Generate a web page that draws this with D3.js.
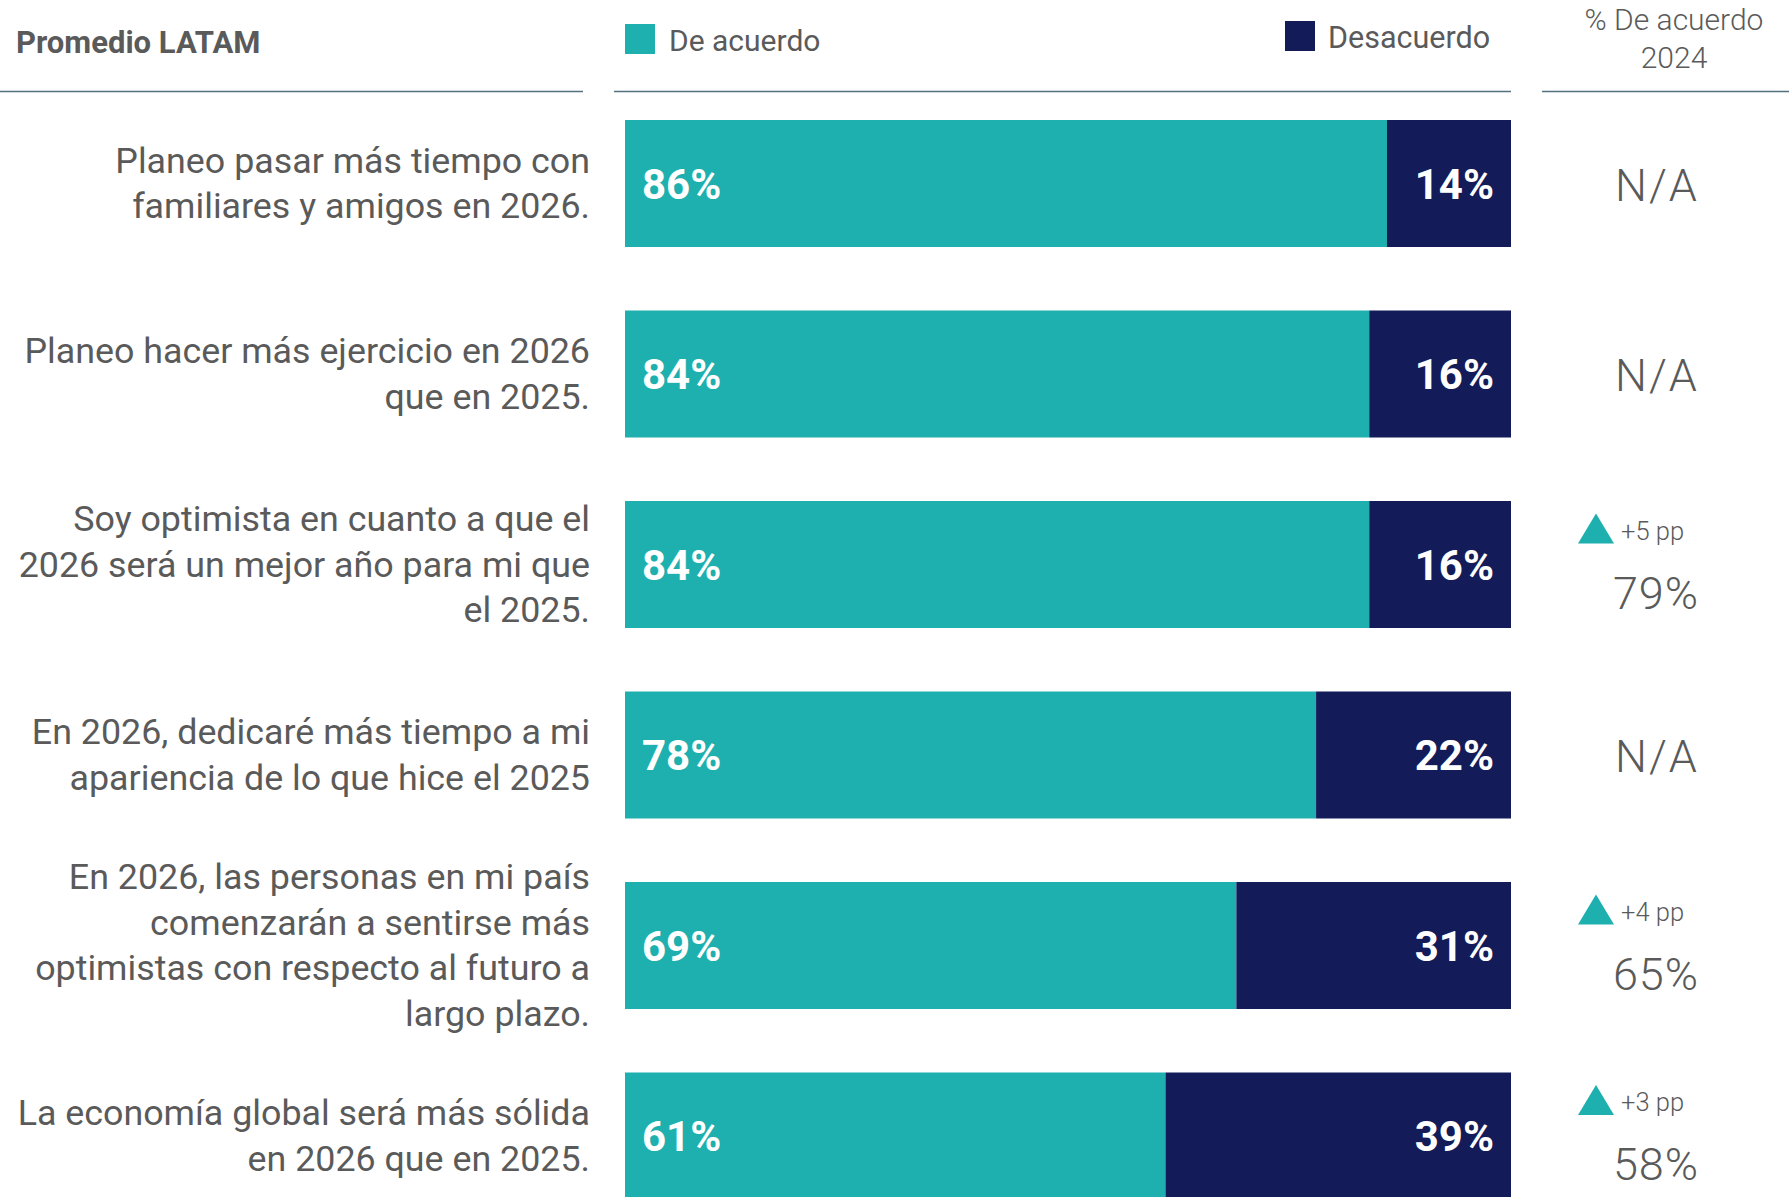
<!DOCTYPE html>
<html>
<head>
<meta charset="utf-8">
<script src="https://cdn.jsdelivr.net/npm/d3@7"></script>
<style>
  html, body { margin: 0; padding: 0; background: #fff; }
  svg { display: block; font-family: Roboto, "Noto Sans", sans-serif; }
</style>
</head>
<body>
<div id="chart"></div>
<script>
// data
var categories = [
  "Planeo pasar más tiempo con\nfamiliares y amigos en 2026.",
  "Planeo hacer más ejercicio en 2026\nque en 2025.",
  "Soy optimista en cuanto a que el\n2026 será un mejor año para mi que\nel 2025.",
  "En 2026, dedicaré más tiempo a mi\napariencia de lo que hice el 2025",
  "En 2026, las personas en mi país\ncomenzarán a sentirse más\noptimistas con respecto al futuro a\nlargo plazo.",
  "La economía global será más sólida\nen 2026 que en 2025."
];
var deAcuerdo = [86, 84, 84, 78, 69, 61];
var desacuerdo = [14, 16, 16, 22, 31, 39];
var acuerdo2024 = [null, null, 79, null, 65, 58];
var cambioPP = [null, null, 5, null, 4, 3];
var seriesNames = ["De acuerdo", "Desacuerdo"];

var W = 1792, H = 1197;
var teal = "#1eb0ae", navy = "#131c58", grey = "#5a5a5a", rule = "#52707f";

var svg = d3.select("#chart").append("svg")
    .attr("width", W)
    .attr("height", H);

var x = d3.scaleLinear().domain([0, 100]).range([625, 1511]);
var y = d3.scaleBand()
    .domain(d3.range(categories.length))
    .range([120, 1199.5])
    .paddingInner(1 / 3)
    .paddingOuter(0);

//header rules
[[0, 583], [614, 1511], [1542, 1789]].forEach(function(r) {
  svg.append("line")
    .attr("x1", r[0]).attr("x2", r[1])
    .attr("y1", 91.5).attr("y2", 91.5)
    .attr("stroke", rule)
    .attr("stroke-width", 1.6);
});

svg.append("text")
    .attr("x", 16).attr("y", 53)
    .attr("font-size", 31)
    .attr("font-weight", 700)
    .attr("fill", grey)
    .text("Promedio LATAM");

//legend
svg.append("rect").attr("x", 625).attr("y", 24).attr("width", 30).attr("height", 30).attr("fill", teal);
svg.append("text").attr("x", 669).attr("y", 51)
    .attr("font-size", 30).attr("fill", grey).text(seriesNames[0]);
svg.append("rect").attr("x", 1285).attr("y", 21).attr("width", 30).attr("height", 30).attr("fill", navy);
svg.append("text").attr("x", 1328).attr("y", 48)
    .attr("font-size", 30.5).attr("fill", grey).text(seriesNames[1]);

svg.append("text")
    .attr("x", 1674).attr("y", 30)
    .attr("text-anchor", "middle")
    .attr("font-size", 30).attr("font-weight", 300).attr("fill", grey)
    .selectAll("tspan")
    .data(["% De acuerdo", "2024"])
    .join("tspan")
    .attr("x", 1674)
    .attr("dy", function(d, i) { return i ? 38 : 0; })
    .text(function(d) { return d; });

var rows = svg.selectAll("g.row")
    .data(categories.map(function(c, i) { return i; }))
    .join("g")
    .attr("class", "row");

//category labels
rows.append("text")
    .attr("text-anchor", "end")
    .attr("font-size", 35.8)
    .attr("font-weight", 400)
    .attr("fill", grey)
    .each(function(i) {
      var lines = categories[i].split("\n");
      var mid = y(i) + y.bandwidth() / 2;
      var lh = 45.5;
      var first = mid - (lines.length - 1) * lh / 2 + 12;
      d3.select(this).selectAll("tspan")
        .data(lines)
        .join("tspan")
        .attr("x", 590)
        .attr("y", function(d, k) { return first + k * lh; })
        .text(function(d) { return d; });
    });

//bars
rows.append("rect")
    .attr("x", x(0))
    .attr("y", function(i) { return y(i); })
    .attr("width", function(i) { return x(deAcuerdo[i]) - x(0); })
    .attr("height", y.bandwidth())
    .attr("fill", teal);
rows.append("rect")
    .attr("x", function(i) { return x(deAcuerdo[i]); })
    .attr("y", function(i) { return y(i); })
    .attr("width", function(i) { return x(deAcuerdo[i] + desacuerdo[i]) - x(deAcuerdo[i]); })
    .attr("height", y.bandwidth())
    .attr("fill", navy);

rows.append("text")
    .attr("x", x(0) + 17)
    .attr("y", function(i) { return y(i) + y.bandwidth() / 2 + 15; })
    .attr("font-size", 42)
    .attr("font-weight", 700)
    .attr("fill", "#fff")
    .text(function(i) { return deAcuerdo[i] + "%"; });
rows.append("text")
    .attr("x", x(100) - 17)
    .attr("y", function(i) { return y(i) + y.bandwidth() / 2 + 15; })
    .attr("text-anchor", "end")
    .attr("font-size", 42)
    .attr("font-weight", 700)
    .attr("fill", "#fff")
    .text(function(i) { return desacuerdo[i] + "%"; });

//2024 column
rows.filter(function(i) { return acuerdo2024[i] == null; })
  .append("text")
    .attr("x", 1657)
    .attr("y", function(i) { return y(i) + y.bandwidth() / 2 + 17; })
    .attr("text-anchor", "middle")
    .attr("font-size", 45)
    .attr("font-weight", 300)
    .attr("letter-spacing", 2)
    .attr("fill", grey)
    .text("N/A");

var withPrev = rows.filter(function(i) { return acuerdo2024[i] != null; });
withPrev.append("path")
    .attr("d", function(i) {
      var m = y(i) + y.bandwidth() / 2;
      return "M1578," + (m - 21) + "L1596," + (m - 51) + "L1614," + (m - 21) + "Z";
    })
    .attr("fill", teal);
withPrev.append("text")
    .attr("x", 1621)
    .attr("y", function(i) { return y(i) + y.bandwidth() / 2 - 25; })
    .attr("font-size", 25.5)
    .attr("font-weight", 300)
    .attr("fill", grey)
    .text(function(i) { return "+" + cambioPP[i] + " pp"; });
withPrev.append("text")
    .attr("x", 1656)
    .attr("y", function(i) { return y(i) + y.bandwidth() / 2 + 44; })
    .attr("text-anchor", "middle")
    .attr("font-size", 45)
    .attr("font-weight", 300)
    .attr("letter-spacing", 1)
    .attr("fill", grey)
    .text(function(i) { return acuerdo2024[i] + "%"; });
</script>
</body>
</html>
